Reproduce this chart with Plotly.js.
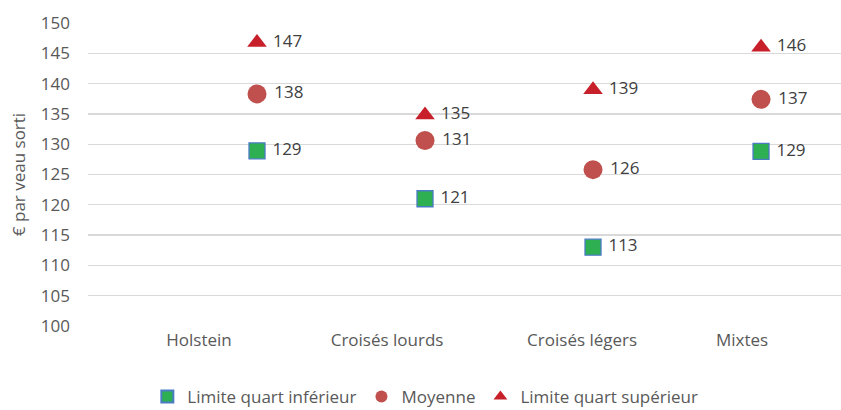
<!DOCTYPE html>
<html><head><meta charset="utf-8">
<script src="https://cdn.plot.ly/plotly-3.0.1.min.js"></script>
<style>body{margin:0;padding:0;background:#fff}#chart{width:841px;height:410px}</style>
</head><body><div id="chart"></div>
<script>
const categories = ["Holstein", "Croisés lourds", "Croisés légers", "Mixtes"];
const quartInferieur = [128.9, 121.0, 113.0, 128.8];
const moyenne = [138.3, 130.6, 125.8, 137.4];
const quartSuperieur = [146.8, 134.8, 139.0, 146.0];
const yTicks = [100, 105, 110, 115, 120, 125, 130, 135, 140, 145, 150];

const xIdx = categories.map((c, i) => i);
const labelShift = [-0.345, -0.226, -0.065, -0.113];
const FONT = "'Open Sans', sans-serif";

function tr(name, y, symbol, size, color, line) {
  return {
    type: 'scatter', mode: 'markers+text', name: name,
    x: xIdx, y: y,
    texttemplate: ' %{y:.0f}', textposition: 'middle right',
    textfont: {family: FONT, size: 17, color: '#404040'},
    marker: {symbol: symbol, size: size, color: color, line: line},
    cliponaxis: false, hoverinfo: 'skip'
  };
}

const data = [
  tr('Limite quart inférieur', quartInferieur, 'square', 16, '#2eb052', {color: '#4a7cc4', width: 1.3}),
  tr('Moyenne', moyenne, 'circle', 19, '#c0504d', {width: 0}),
  tr('Limite quart supérieur', quartSuperieur, 'triangle-up', 17, '#c8202a', {width: 0})
];

const layout = {
  width: 841, height: 410,
  margin: {l: 88, r: 0, t: 23, b: 84},
  paper_bgcolor: '#ffffff', plot_bgcolor: '#ffffff',
  font: {family: FONT, size: 17, color: '#595959'},
  showlegend: true,
  legend: {orientation: 'h', x: 0.448, xanchor: 'center', xref: 'paper',
           yref: 'container', y: 0.032, yanchor: 'middle', itemwidth: 30,
           itemsizing: 'constant',
           font: {family: FONT, size: 17, color: '#595959'}, traceorder: 'normal'},
  xaxis: {
    range: [-1.006, 3.476], showgrid: false, zeroline: false, showline: false,
    tickmode: 'array', tickvals: xIdx.map((v, i) => v + labelShift[i]), ticktext: categories,
    ticks: '', tickfont: {family: FONT, size: 17, color: '#595959'}, ticklabelstandoff: 2,
    automargin: false
  },
  yaxis: {
    range: [100, 150], tickmode: 'array', tickvals: yTicks,
    showgrid: true, gridcolor: '#d9d9d9', gridwidth: 1.3, zeroline: false, showline: false,
    ticks: '', tickfont: {family: FONT, size: 17, color: '#595959'}, ticklabelstandoff: 17,
    automargin: false,
    title: {text: '€ par veau sorti', font: {family: FONT, size: 17, color: '#595959'}, standoff: 10}
  }
};

Plotly.newPlot('chart', data, layout, {displayModeBar: false, staticPlot: true});
</script></body></html>
